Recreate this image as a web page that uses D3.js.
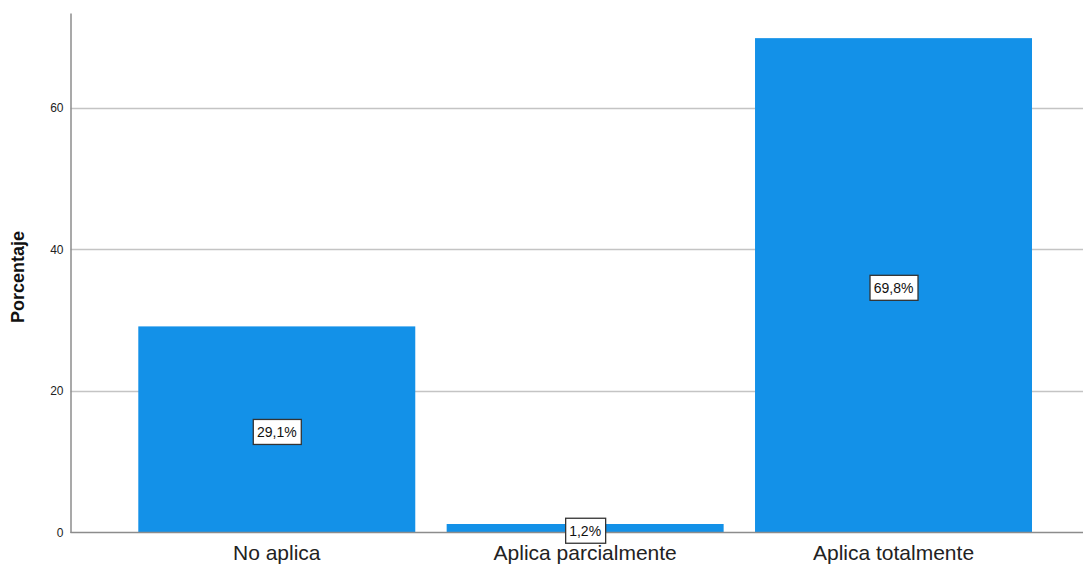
<!DOCTYPE html>
<html>
<head>
<meta charset="utf-8">
<script src="https://cdn.jsdelivr.net/npm/d3@7"></script>
<style>
  html, body { margin: 0; padding: 0; background: #fff; }
  svg { display: block; font-family: "Liberation Sans", Arial, sans-serif; }
</style>
</head>
<body>
<svg id="chart" width="1085" height="565"></svg>
<script>
// Response categories and their percentage share
const categories = ["No aplica", "Aplica parcialmente", "Aplica totalmente"];
const percentages = [29.1, 1.2, 69.8];
const valueLabels = ["29,1%", "1,2%", "69,8%"];
const yTicks = [0, 20, 40, 60];

const svg = d3.select("#chart");
const plot = { left: 70.5, right: 1083, top: 13, bottom: 532.5 };

const x = d3.scaleBand()
  .domain(categories)
  .range([122.6, 1047.7])
  .paddingInner(0.1018)
  .paddingOuter(0.0509);

const y = d3.scaleLinear()
  .domain([0, 73.35])
  .range([plot.bottom, plot.top]);

// Horizontal grid lines
svg.append("g")
  .selectAll("line")
  .data(yTicks.filter(d => d > 0))
  .join("line")
  .attr("x1", plot.left)
  .attr("x2", plot.right)
  .attr("y1", d => Math.round(y(d)) + 0.5)
  .attr("y2", d => Math.round(y(d)) + 0.5)
  .attr("stroke", "#c4c4c4")
  .attr("stroke-width", 1.5);

// Bars
svg.append("g")
  .selectAll("rect")
  .data(percentages)
  .join("rect")
  .attr("x", (d, i) => x(categories[i]))
  .attr("width", x.bandwidth())
  .attr("y", d => y(d))
  .attr("height", d => y(0) - y(d))
  .attr("fill", "#1391e8");

// Y axis
const yAxis = d3.axisLeft(y).tickValues(yTicks).tickSize(0).tickPadding(7);
const gy = svg.append("g")
  .attr("transform", `translate(${plot.left},0)`)
  .call(yAxis);
gy.select(".domain").attr("stroke", "#8c8c8c").attr("stroke-width", 1.5);
gy.selectAll("text")
  .attr("font-size", 12)
  .attr("fill", "#222")
  .attr("font-family", "'Liberation Sans', Arial, sans-serif");

// Baseline
svg.append("line")
  .attr("x1", plot.left).attr("x2", plot.right)
  .attr("y1", y(0)).attr("y2", y(0))
  .attr("stroke", "#8c8c8c").attr("stroke-width", 1.5);

// X axis category labels
const xAxis = d3.axisBottom(x).tickSize(0).tickPadding(13);
const gx = svg.append("g")
  .attr("transform", `translate(0,${plot.bottom})`)
  .call(xAxis);
gx.select(".domain").remove();
gx.selectAll("text")
  .attr("font-size", 21)
  .attr("fill", "#222")
  .attr("font-family", "'Liberation Sans', Arial, sans-serif");

// Y axis title
svg.append("text")
  .attr("transform", `translate(24,277) rotate(-90)`)
  .attr("text-anchor", "middle")
  .attr("font-size", 18)
  .attr("font-weight", "bold")
  .attr("fill", "#111")
  .text("Porcentaje");

// Value labels in boxes at the middle of each bar
const labels = svg.append("g")
  .selectAll("g")
  .data(percentages)
  .join("g")
  .attr("transform", (d, i) =>
    `translate(${x(categories[i]) + x.bandwidth() / 2},${y(d / 2) + 2.5})`);

labels.append("text")
  .attr("text-anchor", "middle")
  .attr("dy", "0.35em")
  .attr("font-size", 14)
  .attr("fill", "#111")
  .text((d, i) => valueLabels[i]);

labels.each(function () {
  const g = d3.select(this);
  const bb = g.select("text").node().getBBox();
  g.insert("rect", "text")
    .attr("x", Math.round(bb.x - 4) + 0.5)
    .attr("y", -12.5)
    .attr("width", Math.round(bb.width + 8))
    .attr("height", 25)
    .attr("fill", "#fff")
    .attr("stroke", "#333")
    .attr("stroke-width", 1.3);
});
</script>
</body>
</html>
